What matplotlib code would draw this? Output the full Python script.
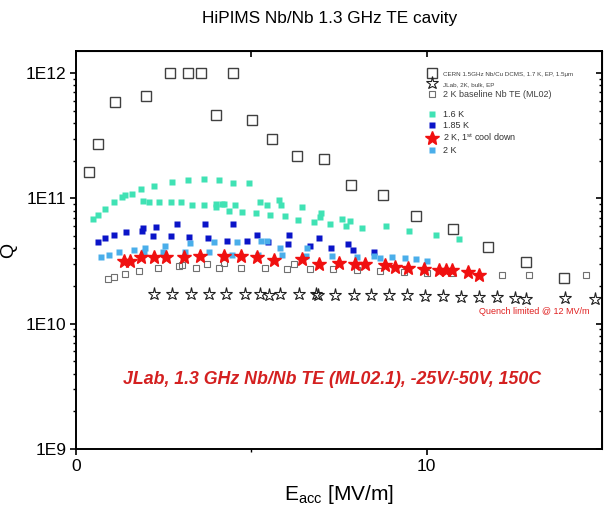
import numpy as np
import matplotlib
matplotlib.use("Agg")
import matplotlib.pyplot as plt

plt.rcParams["font.family"] = ["Liberation Sans", "DejaVu Sans"]

# CERN 1.5 GHz Nb/Cu DCMS, 1.7 K
cern_e = [0.36, 0.63, 1.12, 2.0, 2.69, 3.18, 3.57, 4.47, 3.99, 5.01, 5.6, 6.29,
          7.07, 7.85, 8.75, 9.69, 10.75, 11.74, 12.82, 13.93]
cern_q = [1.63e11, 2.7e11, 5.9e11, 6.6e11, 1.0e12, 1.0e12, 1.0e12, 1.0e12, 4.6e11, 4.25e11,
          2.96e11, 2.18e11, 2.05e11, 1.29e11, 1.07e11, 7.2e10, 5.7e10, 4.1e10, 3.1e10, 2.33e10]

# JLab 2K bulk EP
jlab_e = [2.22, 2.74, 3.27, 3.79, 4.28, 4.81, 5.26, 5.5, 5.83, 6.36, 6.85, 6.9, 7.39, 7.92,
          8.42, 8.94, 9.45, 9.96, 10.47, 10.98, 11.49, 12.0, 12.51, 12.84, 13.94, 14.79]
jlab_q = [1.71e10, 1.71e10, 1.71e10, 1.71e10, 1.71e10, 1.71e10, 1.71e10, 1.69e10, 1.71e10,
          1.71e10, 1.72e10, 1.70e10, 1.70e10, 1.70e10, 1.69e10, 1.68e10, 1.68e10, 1.66e10,
          1.66e10, 1.64e10, 1.62e10, 1.62e10, 1.61e10, 1.58e10, 1.60e10, 1.58e10]

# 2 K baseline Nb TE (ML02)
base_e = [0.91, 1.08, 1.40, 1.81, 2.34, 2.95, 3.03, 3.41, 3.74, 4.07, 4.22, 4.71, 5.38,
          6.03, 6.21, 6.66, 7.33, 8.0, 8.66, 9.34, 10.02, 10.73, 12.16, 12.91, 14.54]
base_q = [2.29e10, 2.35e10, 2.5e10, 2.63e10, 2.8e10, 2.88e10, 2.95e10, 2.8e10, 3.0e10,
          2.8e10, 3.05e10, 2.8e10, 2.8e10, 2.75e10, 3.0e10, 2.75e10, 2.74e10, 2.7e10,
          2.65e10, 2.6e10, 2.55e10, 2.55e10, 2.45e10, 2.45e10, 2.45e10]

# 1.6 K
k16_e = [0.48, 0.63, 0.82, 1.07, 1.32, 1.39, 1.6, 1.84, 2.22, 2.73, 3.19, 3.64, 4.07, 4.49,
         4.94, 1.9, 2.08, 2.37, 2.7, 3.0, 3.31, 3.66, 4.0, 4.0, 4.16, 4.23, 4.36, 4.54, 4.74,
         5.14, 5.26, 5.46, 5.53, 5.79, 5.84, 5.97, 6.34, 6.44, 6.8, 6.95, 7.0, 7.23, 7.59,
         7.71, 7.82, 8.17, 8.84, 9.51, 10.26, 10.91]
k16_q = [6.8e10, 7.4e10, 8.3e10, 9.3e10, 1.02e11, 1.07e11, 1.08e11, 1.18e11, 1.26e11,
         1.36e11, 1.41e11, 1.44e11, 1.39e11, 1.32e11, 1.32e11, 9.5e10, 9.3e10, 9.3e10,
         9.3e10, 9.4e10, 8.9e10, 8.8e10, 9.1e10, 8.5e10, 9.1e10, 9.0e10, 8.0e10, 8.8e10,
         7.8e10, 7.7e10, 9.3e10, 8.8e10, 7.4e10, 9.7e10, 8.8e10, 7.2e10, 6.7e10, 8.5e10,
         6.5e10, 7.1e10, 7.7e10, 6.2e10, 6.8e10, 6.0e10, 6.6e10, 5.85e10, 6.0e10, 5.5e10,
         5.1e10, 4.7e10]

# 1.85 K
k185_e = [0.63, 0.83, 1.09, 1.43, 1.88, 1.91, 2.19, 2.27, 2.7, 2.89, 3.22, 3.69, 3.76,
          4.31, 4.47, 4.88, 5.17, 5.47, 6.06, 6.04, 6.66, 6.92, 7.28, 7.75, 7.9, 8.5]
k185_q = [4.5e10, 4.8e10, 5.1e10, 5.4e10, 5.5e10, 5.75e10, 5.0e10, 5.9e10, 5.0e10, 6.2e10,
          4.95e10, 6.3e10, 4.8e10, 4.6e10, 6.2e10, 4.55e10, 5.1e10, 4.5e10, 5.1e10, 4.3e10,
          4.15e10, 4.8e10, 4.05e10, 4.3e10, 3.9e10, 3.72e10]

# 2 K, 1st cool down
cd1_e = [1.38, 1.53, 1.84, 2.23, 2.58, 3.07, 3.54, 4.22, 4.71, 5.16, 5.65, 6.45, 6.93, 7.5,
         7.95, 8.24, 8.81, 9.10, 9.47, 9.92, 10.35, 10.56, 10.73, 11.17, 11.49]
cd1_q = [3.16e10, 3.16e10, 3.38e10, 3.38e10, 3.4e10, 3.43e10, 3.5e10, 3.45e10, 3.47e10,
         3.38e10, 3.2e10, 3.3e10, 3.0e10, 3.06e10, 2.98e10, 2.98e10, 2.96e10, 2.86e10,
         2.8e10, 2.75e10, 2.7e10, 2.68e10, 2.66e10, 2.6e10, 2.45e10]

# 2 K
k2_e = [0.72, 0.94, 1.24, 1.64, 1.95, 1.98, 2.48, 2.53, 3.11, 3.24, 3.79, 3.93, 4.46, 4.6,
        5.19, 5.28, 5.46, 5.83, 5.87, 6.57, 6.59, 7.31, 8.01, 8.49, 8.66, 9.0, 9.38, 9.7, 10.02]
k2_q = [3.41e10, 3.55e10, 3.72e10, 3.9e10, 3.72e10, 4.05e10, 3.72e10, 4.2e10, 3.72e10,
        4.37e10, 3.72e10, 4.5e10, 3.55e10, 4.5e10, 3.55e10, 4.55e10, 4.6e10, 4.05e10, 3.55e10,
        3.5e10, 4.05e10, 3.45e10, 3.4e10, 3.5e10, 3.35e10, 3.4e10, 3.35e10, 3.27e10, 3.16e10]

fig = plt.figure(figsize=(6.06, 5.13), dpi=100)
ax = fig.add_axes([76 / 606, 64 / 513, 526 / 606, 398 / 513])

h_cern, = ax.plot(cern_e, cern_q, "s", ms=7.2, mfc="none", mec="#404040", mew=1.0, ls="none")
h_jlab, = ax.plot(jlab_e, jlab_q, "*", ms=9.5, mfc="none", mec="#202020", mew=0.8, ls="none")
h_base, = ax.plot(base_e, base_q, "s", ms=4.3, mfc="none", mec="#707070", mew=0.8, ls="none")
h_16, = ax.plot(k16_e, k16_q, "s", ms=4.2, color="#40e2b4", mec="none", ls="none")
h_185, = ax.plot(k185_e, k185_q, "s", ms=4.5, color="#0a14c8", mec="none", ls="none")
h_2k, = ax.plot(k2_e, k2_q, "s", ms=4.5, color="#4aaeea", mec="none", ls="none")
h_cd1, = ax.plot(cd1_e, cd1_q, "*", ms=10, color="#f01010", mec="#f01010", ls="none")

ax.set_yscale("log")
ax.set_xlim(0, 15)
ax.set_ylim(1e9, 1.5e12)
ax.set_yticks([1e9, 1e10, 1e11, 1e12])
ax.set_yticklabels(["1E9", "1E10", "1E11", "1E12"])
ax.yaxis.set_minor_locator(matplotlib.ticker.LogLocator(base=10, subs=np.arange(2, 10)))
ax.yaxis.set_minor_formatter(matplotlib.ticker.NullFormatter())
ax.set_xticks([0, 10])
ax.set_xticks([5], minor=True)
ax.tick_params(which="major", direction="out", length=4.5, width=1.2, labelsize=12.5, pad=2.5)
ax.tick_params(which="minor", direction="out", length=2.5, width=1.0)
for s in ax.spines.values():
    s.set_linewidth(1.4)

ident = (lambda v: v, lambda v: v)
sec_y = ax.secondary_yaxis("right", functions=ident)
sec_y.set_yticks([1e9, 1e10, 1e11, 1e12])
sec_y.yaxis.set_minor_locator(matplotlib.ticker.LogLocator(base=10, subs=np.arange(2, 10)))
sec_y.tick_params(which="major", direction="in", length=4.5, width=1.2, labelright=False)
sec_y.tick_params(which="minor", direction="in", length=2.5, width=1.0, labelright=False)
sec_y.yaxis.set_minor_formatter(matplotlib.ticker.NullFormatter())
sec_x = ax.secondary_xaxis("top", functions=ident)
sec_x.set_xticks([0, 10])
sec_x.set_xticks([5], minor=True)
sec_x.tick_params(which="both", direction="in", length=4.5, width=1.2, labeltop=False)

ax.set_xlabel(r"E$_{\mathregular{acc}}$ [MV/m]", fontsize=15)
ax.xaxis.set_label_coords(0.5, -0.085)
ax.set_ylabel("Q", fontsize=14)
ax.yaxis.set_label_coords(-0.112, 0.5)

leg1 = ax.legend([h_cern, h_jlab, h_base],
                 ["CERN 1.5GHz Nb/Cu DCMS, 1.7 K, EP, 1.5\u03bcm", "JLab, 2K, bulk, EP",
                  "2 K baseline Nb TE (ML02)"],
                 loc="upper left", bbox_to_anchor=(0.661, 0.962), frameon=False,
                 handlelength=1.0, handletextpad=0.75, labelspacing=0.3, fontsize=6.5,
                 borderaxespad=0)
for t, fs in zip(leg1.get_texts(), [4.5, 4.5, 6.5]):
    t.set_fontsize(fs)
    t.set_color("#404040")
ax.add_artist(leg1)
leg2 = ax.legend([h_16, h_185, h_cd1, h_2k],
                 ["1.6 K", "1.85 K", "2 K, 1$^{\\mathregular{st}}$ cool down", "2 K"],
                 loc="upper left", bbox_to_anchor=(0.661, 0.86), frameon=False,
                 handlelength=1.0, handletextpad=0.75, labelspacing=0.2, fontsize=6.5,
                 borderaxespad=0)
for t in leg2.get_texts():
    t.set_color("#303030")

ax.text(0.977, 0.345, "Quench limited @ 12 MV/m", transform=ax.transAxes, ha="right",
        va="center", fontsize=6.5, color="#e02020")
ax.text(0.487, 0.175, "JLab, 1.3 GHz Nb/Nb TE (ML02.1), -25V/-50V, 150C",
        transform=ax.transAxes, ha="center", va="center", fontsize=12.8,
        fontweight="bold", fontstyle="italic", color="#d42020")

fig.text(330 / 606, 1 - 19 / 513, "HiPIMS Nb/Nb 1.3 GHz TE cavity", ha="center",
         va="center", fontsize=12.4)

fig.savefig("out.png", dpi=100)
